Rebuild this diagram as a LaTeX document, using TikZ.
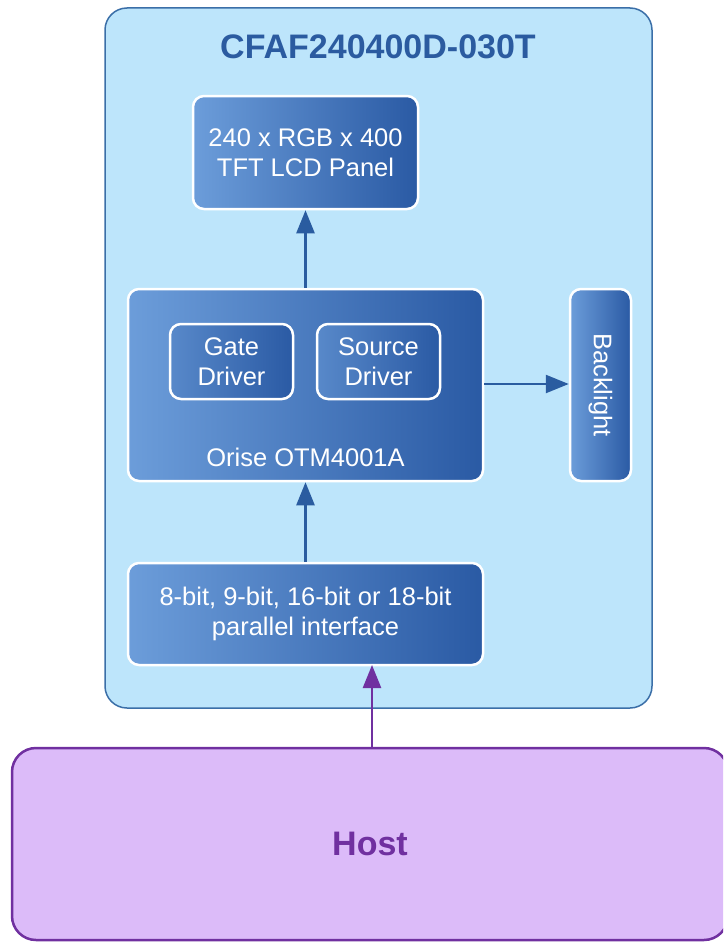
\documentclass[tikz,border=0pt]{standalone}
\usepackage{fontspec}
\setmainfont{Liberation Sans}
\usetikzlibrary{arrows.meta}
\definecolor{outerfill}{HTML}{BDE5FB}
\definecolor{outerdraw}{HTML}{3B6FA8}
\definecolor{boxlight}{HTML}{6C9DDA}
\definecolor{boxdark}{HTML}{2A5AA4}
\definecolor{titleblue}{HTML}{2B5BA0}
\definecolor{arrowblue}{HTML}{2A5CA0}
\definecolor{hostfill}{HTML}{DCBBF9}
\definecolor{hostpurple}{HTML}{7030A0}
\tikzset{
  boxfont/.style={font=\fontsize{25.5}{30}\selectfont},
  blockbox/.style={draw=white, line width=2.5pt, rounded corners=11pt,
    left color=boxlight, right color=boxdark, text=white, align=center,
    inner sep=0pt, boxfont},
  subbox/.style={blockbox, left color=boxlight!70!boxdark, right color=boxdark},
  bluearrow/.style={draw=arrowblue, line width=2.5pt,
    -{Triangle[length=23pt,width=18pt]}},
  purplearrow/.style={draw=hostpurple, line width=2.5pt,
    -{Triangle[length=23pt,width=18pt]}},
}
\begin{document}
\begin{tikzpicture}[x=1pt,y=-1pt]
\useasboundingbox (0,0) rectangle (723,942);
\begin{scope}
\clip (0,0) rectangle (723,942);
% outer device box
\node (dev) [draw=outerdraw, line width=1.5pt, fill=outerfill, rounded corners=22pt,
  minimum width=547pt, minimum height=700pt, inner sep=0pt] at (378.5,358) {};
\node (title) [text=titleblue, font=\fontsize{34}{38}\selectfont\bfseries] at (378,47) {CFAF240400D-030T};
% host
\node (host) [draw=hostpurple, line width=2.5pt, fill=hostfill, rounded corners=24pt,
  minimum width=716pt, minimum height=192pt, inner sep=0pt,
  text=hostpurple, font=\fontsize{34}{38}\selectfont\bfseries] at (370,844) {Host};
\end{scope}
% LCD panel
\node (lcd) [blockbox, minimum width=225pt, minimum height=113pt] at (305.5,152.5)
  {240 x RGB x 400\\TFT LCD Panel};
% driver IC
\node (ic) [blockbox, minimum width=355pt, minimum height=192pt] at (305.5,385) {};
\node (gate) [subbox, minimum width=123pt, minimum height=75pt] at (231.5,361.5) {Gate\\Driver};
\node (src) [subbox, minimum width=123pt, minimum height=75pt] at (378.5,361.5) {Source\\Driver};
\node (icname) [text=white, boxfont] at (305.5,457) {Orise OTM4001A};
% backlight
\node (bl) [blockbox, minimum width=61pt, minimum height=192pt] at (600.5,385) {};
\node (bltext) [rotate=-90, text=white, boxfont] at (bl.center) {Backlight};
% interface
\node (intf) [blockbox, minimum width=355pt, minimum height=102pt] at (305.5,614)
  {8-bit, 9-bit, 16-bit or 18-bit\\parallel interface};
% connectors
\draw[bluearrow] (ic.north) -- (lcd.south);
\draw[bluearrow] (intf.north) -- (ic.south);
\draw[bluearrow] (ic.east |- 0,384) -- (bl.west |- 0,384);
\coordinate (hostin) at (372,748);
\coordinate (intfin) at (372,665);
\draw[purplearrow] (hostin) -- (intfin);
\end{tikzpicture}
\end{document}
